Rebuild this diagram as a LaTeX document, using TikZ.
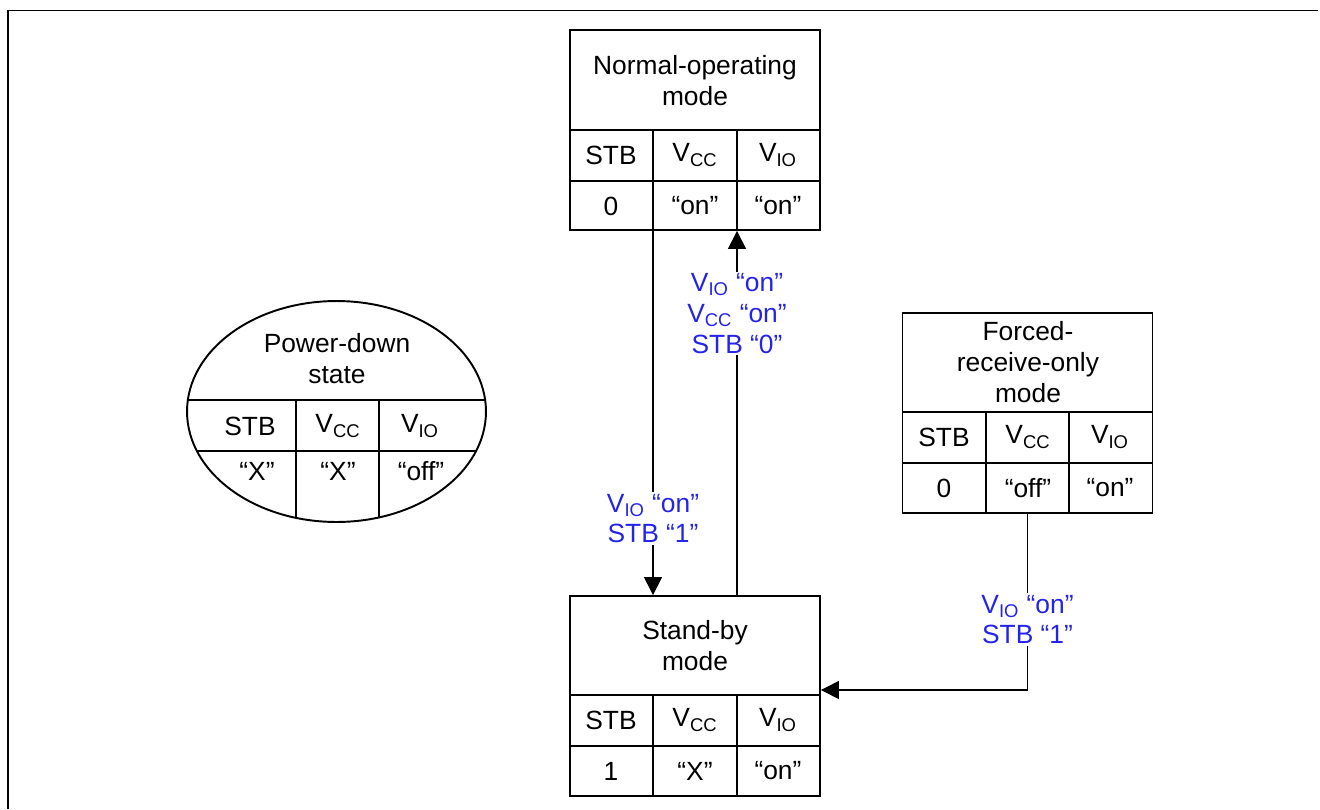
\documentclass[tikz,border=0pt]{standalone}
\usepackage{fontspec}
\setmainfont{Liberation Sans}
\usetikzlibrary{arrows.meta}
\definecolor{condblue}{RGB}{35,35,235}
\newcommand{\Vs}[1]{V\textsubscript{#1}}

\begin{document}
\begin{tikzpicture}[x=0.02cm, y=-0.02cm, font=\fontsize{15}{17.6}\selectfont,
	box/.style={draw, line width=1.1pt, minimum width=5cm, minimum height=4cm, inner sep=0pt},
	grid/.style={line width=1.1pt},
	txt/.style={align=center, inner sep=0pt},
	cond/.style={text=condblue, align=center, fill=white, inner sep=1pt},
	arr/.style={line width=0.8pt, -{Triangle[length=0.36cm, width=0.36cm]}}]
	\useasboundingbox (0,0) rectangle (1320,809);

	\draw[line width=0.7pt] (8,809) -- (8,10.5) -- (1318,10.5);

	% normal-operating mode
	\node[box] (normal) at (695,130) {};
	\draw[grid] (570,130) -- (820,130) (570,181) -- (820,181) (653,130) -- (653,230) (737,130) -- (737,230);
	\node[txt] (normal-title) at (695,80.5) {Normal-operating\\mode};
	\node[txt] (normal-stb) at (611,155) {STB};
	\node[txt] (normal-vcc) at (695,155) {\Vs{CC}};
	\node[txt] (normal-vio) at (778,155) {\Vs{IO}};
	\node[txt] (normal-0) at (611,206) {0};
	\node[txt] (normal-1) at (695,206) {“on”};
	\node[txt] (normal-2) at (778,206) {“on”};

	% stand-by mode
	\node[box] (standby) at (695,696) {};
	\draw[grid] (570,695) -- (820,695) (570,746) -- (820,746) (653,695) -- (653,796) (737,695) -- (737,796);
	\node[txt] (standby-title) at (695,645.5) {Stand-by\\mode};
	\node[txt] (standby-stb) at (611,720) {STB};
	\node[txt] (standby-vcc) at (695,720) {\Vs{CC}};
	\node[txt] (standby-vio) at (778,720) {\Vs{IO}};
	\node[txt] (standby-0) at (611,771) {1};
	\node[txt] (standby-1) at (695,771) {“X”};
	\node[txt] (standby-2) at (778,771) {“on”};

	% forced-receive-only mode
	\node[box] (forced) at (1027.5,413) {};
	\draw[grid] (903,412) -- (1152,412) (903,463) -- (1152,463) (986,412) -- (986,513) (1069,412) -- (1069,513);
	\node[txt] (forced-title) at (1028,362) {Forced-\\receive-only\\mode};
	\node[txt] (forced-stb) at (944,437) {STB};
	\node[txt] (forced-vcc) at (1028,437) {\Vs{CC}};
	\node[txt] (forced-vio) at (1110,437) {\Vs{IO}};
	\node[txt] (forced-0) at (944,488) {0};
	\node[txt] (forced-1) at (1028,488) {“off”};
	\node[txt] (forced-2) at (1110,488) {“on”};

	% power-down state
	\draw[line width=1.1pt] (336.5,411.5) ellipse [x radius=2.99cm, y radius=2.21cm];
	\begin{scope}
		\clip (336.5,411.5) ellipse [x radius=2.99cm, y radius=2.21cm];
		\draw[grid] (180,400) -- (495,400) (180,451) -- (495,451) (296,400) -- (296,530) (379,400) -- (379,530);
	\end{scope}
	\node[txt] (pdown-title) at (337,359) {Power-down\\state};
	\node[txt] (pdown-stb) at (250,426) {STB};
	\node[txt] (pdown-vcc) at (338,426) {\Vs{CC}};
	\node[txt] (pdown-vio) at (420,426) {\Vs{IO}};
	\node[txt] (pdown-0) at (257,471) {“X”};
	\node[txt] (pdown-1) at (338,471) {“X”};
	\node[txt] (pdown-2) at (421,471) {“off”};

	% transitions
	\draw[arr] ([xshift=-0.84cm]normal.south) -- node[cond, pos=0.79] {\Vs{IO} “on”\\STB “1”} ([xshift=-0.84cm]standby.north);
	\draw[arr] ([xshift=0.84cm]standby.north) -- node[cond, pos=0.773] {\Vs{IO} “on”\\\Vs{CC} “on”\\STB “0”} ([xshift=0.84cm]normal.south);
	\draw[arr] (forced.south) |- node[cond, pos=0.3] {\Vs{IO} “on”\\STB “1”} ([yshift=0.12cm]standby.east);
\end{tikzpicture}
\end{document}
